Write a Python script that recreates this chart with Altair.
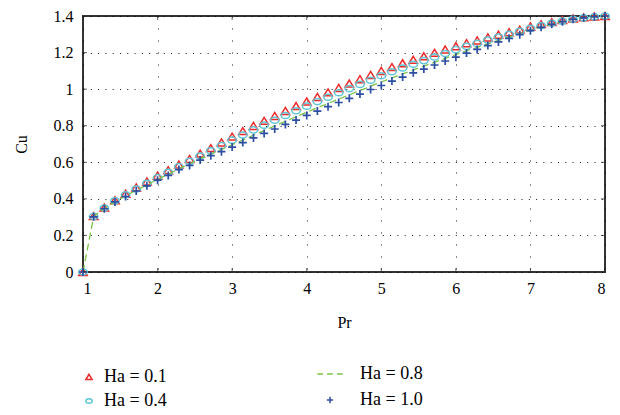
import altair as alt
import pandas as pd

# Pr sample positions (1 to 8, step 1/7)
pr = [1.0, 1.143, 1.286, 1.429, 1.571, 1.714, 1.857,
      2.0, 2.143, 2.286, 2.429, 2.571, 2.714, 2.857,
      3.0, 3.143, 3.286, 3.429, 3.571, 3.714, 3.857,
      4.0, 4.143, 4.286, 4.429, 4.571, 4.714, 4.857,
      5.0, 5.143, 5.286, 5.429, 5.571, 5.714, 5.857,
      6.0, 6.143, 6.286, 6.429, 6.571, 6.714, 6.857,
      7.0, 7.143, 7.286, 7.429, 7.571, 7.714, 7.857, 8.0]

cu_ha01 = [0.0, 0.305, 0.352, 0.392, 0.428, 0.462, 0.495, 0.526, 0.556, 0.587,
           0.618, 0.647, 0.677, 0.708, 0.740, 0.770, 0.798, 0.826, 0.853, 0.880,
           0.907, 0.932, 0.957, 0.982, 1.006, 1.030, 1.054, 1.077, 1.099, 1.120,
           1.141, 1.160, 1.179, 1.198, 1.216, 1.234, 1.251, 1.266, 1.282, 1.297,
           1.311, 1.325, 1.342, 1.355, 1.366, 1.377, 1.386, 1.392, 1.397, 1.400]

cu_ha04 = [0.0, 0.304, 0.350, 0.389, 0.422, 0.454, 0.485, 0.516, 0.545, 0.576,
           0.606, 0.634, 0.663, 0.692, 0.721, 0.749, 0.777, 0.803, 0.830, 0.856,
           0.882, 0.907, 0.932, 0.956, 0.980, 1.003, 1.026, 1.049, 1.073, 1.095,
           1.116, 1.136, 1.156, 1.176, 1.195, 1.216, 1.234, 1.250, 1.268, 1.285,
           1.300, 1.316, 1.333, 1.348, 1.360, 1.372, 1.382, 1.390, 1.396, 1.400]

cu_ha08 = [0.0, 0.303, 0.347, 0.385, 0.416, 0.447, 0.476, 0.507, 0.534, 0.565,
           0.591, 0.620, 0.646, 0.670, 0.696, 0.722, 0.748, 0.773, 0.799, 0.824,
           0.849, 0.874, 0.898, 0.922, 0.946, 0.969, 0.992, 1.016, 1.039, 1.062,
           1.083, 1.105, 1.126, 1.147, 1.168, 1.189, 1.210, 1.228, 1.248, 1.267,
           1.286, 1.304, 1.325, 1.342, 1.357, 1.370, 1.382, 1.390, 1.396, 1.400]

cu_ha10 = [0.0, 0.302, 0.346, 0.383, 0.413, 0.443, 0.471, 0.502, 0.528, 0.560,
           0.583, 0.612, 0.636, 0.658, 0.683, 0.708, 0.733, 0.758, 0.782, 0.807,
           0.831, 0.856, 0.880, 0.904, 0.927, 0.950, 0.973, 0.998, 1.020, 1.044,
           1.066, 1.089, 1.110, 1.132, 1.154, 1.175, 1.197, 1.217, 1.238, 1.258,
           1.278, 1.298, 1.320, 1.338, 1.355, 1.369, 1.382, 1.390, 1.396, 1.400]

labels = ["Ha = 0.1", "Ha = 0.4", "Ha = 0.8", "Ha = 1.0"]
x_ticks = [1, 2, 3, 4, 5, 6, 7, 8]
y_ticks = [0, 0.2, 0.4, 0.6, 0.8, 1.0, 1.2, 1.4]

rows = []
for lab, ser in zip(labels, [cu_ha01, cu_ha04, cu_ha08, cu_ha10]):
    for p, c in zip(pr, ser):
        rows.append({"Pr": p, "Cu": c, "Ha": lab})
df = pd.DataFrame(rows)

SERIF = "Liberation Serif"
RED = "#ee2a2a"
CYAN = "#5ec6d6"
GREEN = "#7cc444"
BLUE = "#2d4fa3"

TRI = "M0,-0.85L1,0.8L-1,0.8Z"
ELL = "M-1,0A1,0.72 0 1,1 1,0A1,0.72 0 1,1 -1,0Z"
PLUS = "M-1,0H1M0,-1V1"
DASH = "M-4,0H-2.2M-0.9,0H0.9M2.2,0H4"

xscale = alt.Scale(domain=[1, 8], nice=False, zero=False)
yscale = alt.Scale(domain=[0, 1.4], nice=False, zero=False)

xaxis = alt.Axis(values=x_ticks, title="Pr", format="~g",
                 labelFont=SERIF, titleFont=SERIF,
                 titleX=261, titleY=50, titleBaseline="middle")
yaxis = alt.Axis(values=y_ticks, title="Cu", format="~g",
                 labelFont=SERIF, titleFont=SERIF,
                 titleX=-62, titleY=128, titleBaseline="middle", titleAngle=-90)

X = alt.X("Pr:Q", scale=xscale, axis=xaxis)
Y = alt.Y("Cu:Q", scale=yscale, axis=yaxis)

base = alt.Chart(df)

legA = alt.Legend(title=None, orient="none", legendX=-3, legendY=352,
                  labelFont=SERIF, labelFontSize=18, labelColor="black",
                  symbolStrokeWidth=1.5, symbolSize=40, rowPadding=6,
                  labelOffset=6, padding=0)
legB = alt.Legend(title=None, orient="none", legendX=238, legendY=349,
                  labelFont=SERIF, labelFontSize=18, labelColor="black",
                  symbolStrokeWidth=1.5, symbolSize=40, rowPadding=8,
                  labelOffset=21, padding=0)

layerA = base.transform_filter(
    alt.FieldOneOfPredicate(field="Ha", oneOf=labels[:2])
).mark_point(filled=False, size=72, strokeWidth=1.5, opacity=1).encode(
    x=X, y=Y,
    color=alt.Color("Ha:N", scale=alt.Scale(domain=labels[:2], range=[RED, CYAN]), legend=legA),
    shape=alt.Shape("Ha:N", scale=alt.Scale(domain=labels[:2], range=[TRI, ELL]), legend=legA),
)

lineB = base.transform_filter(
    alt.FieldEqualPredicate(field="Ha", equal="Ha = 0.8")
).mark_line(strokeDash=[7, 4], strokeWidth=1.3, color=GREEN).encode(x=X, y=Y)

pointsB = base.transform_filter(
    alt.FieldEqualPredicate(field="Ha", equal="Ha = 1.0")
).mark_point(filled=False, size=64, strokeWidth=1.7, opacity=1).encode(
    x=X, y=Y,
    color=alt.Color("Ha:N", scale=alt.Scale(domain=labels[2:], range=[GREEN, BLUE]), legend=legB),
    shape=alt.Shape("Ha:N", scale=alt.Scale(domain=labels[2:], range=[DASH, PLUS]), legend=legB),
)

xt = pd.DataFrame({"Pr": x_ticks})
yt = pd.DataFrame({"Cu": y_ticks})
tick_style = dict(clip=True, color="#222", thickness=1, size=8)
tb = alt.Chart(xt).mark_tick(orient="vertical", **tick_style).encode(
    x=X, y=alt.YDatum(0, scale=yscale, axis=yaxis))
tt = alt.Chart(xt).mark_tick(orient="vertical", **tick_style).encode(
    x=X, y=alt.YDatum(1.4, scale=yscale, axis=yaxis))
tl = alt.Chart(yt).mark_tick(orient="horizontal", **tick_style).encode(
    y=Y, x=alt.XDatum(1, scale=xscale, axis=xaxis))
tr = alt.Chart(yt).mark_tick(orient="horizontal", **tick_style).encode(
    y=Y, x=alt.XDatum(8, scale=xscale, axis=xaxis))

chart = alt.layer(layerA, lineB, pointsB, tb, tt, tl, tr).resolve_scale(
    color="independent", shape="independent"
).properties(
    width=522, height=256, autosize="none", background="white",
    padding={"left": 83, "top": 16, "right": 15, "bottom": 143},
).configure(font=SERIF).configure_view(stroke="#333", strokeWidth=2).configure_axis(
    grid=True, gridColor="#000", gridOpacity=0.9, gridWidth=1,
    ticks=False, domain=False, labelFont=SERIF, labelFontSize=16,
    labelColor="black", titleFont=SERIF, titleFontSize=16,
    titleFontWeight="normal", titleColor="black",
).configure_axisX(gridDash=[1, 11], labelPadding=8).configure_axisY(
    gridDash=[1, 6.3], labelPadding=10)

chart.save("out.html", embed_options={"renderer": "svg", "actions": False})
